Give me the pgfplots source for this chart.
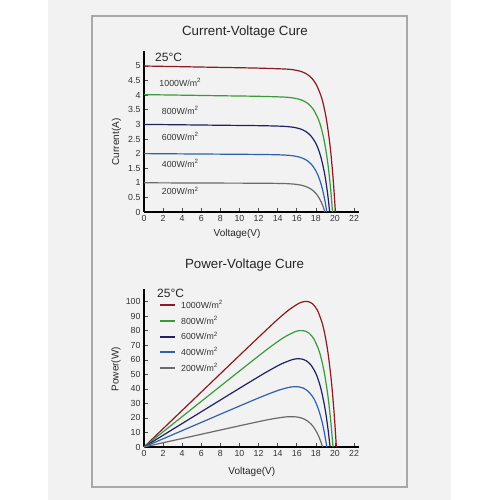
\documentclass[border=0pt]{standalone}
\usepackage{pgfplots}
\pgfplotsset{compat=1.18}
\usepackage{fontspec}
\setmainfont{Liberation Sans}
\definecolor{cRed}{HTML}{8B1A22}
\definecolor{cGreen}{HTML}{3A9A3A}
\definecolor{cNavy}{HTML}{1F2163}
\definecolor{cBlue}{HTML}{2E62AD}
\definecolor{cGray}{HTML}{6A6A6A}
\definecolor{pageBg}{HTML}{F2F2F2}
\definecolor{boxLine}{HTML}{A8A8A8}
\pgfplotsset{
  common/.style={
    scale only axis, width=214.8pt,
    xmin=0, xmax=22.5, xtick={0,2,...,22},
    axis lines=left, axis line style={line width=1.6pt, -},
    tick style={line width=0.6pt, black!70},
    major tick length=4pt,
    tick align=inside,
    ticklabel style={font=\fontsize{8.8}{10}\selectfont, text=black!80},
    /pgf/number format/assume math mode=true,
    every axis plot/.append style={line width=1.2pt, smooth, tension=0.5, no markers},
    label style={font=\fontsize{10}{12}\selectfont, text=black!85},
    title style={font=\fontsize{13.3}{15}\selectfont, text=black!85},
    clip=false,
  }
}
\begin{document}
\begin{tikzpicture}
\fill[white] (0pt,0pt) rectangle (500pt,500pt);
\fill[pageBg] (48pt,0pt) rectangle (451pt,500pt);
\draw[boxLine, line width=1.2pt] (92pt,13pt) rectangle (407pt,484pt);
% ---------------- Current-Voltage ----------------
\begin{axis}[common, at={(144pt,288pt)}, anchor=south west,
  height=160.6pt, ymin=0, ymax=5.5,
  ytick={0,0.5,1,1.5,2,2.5,3,3.5,4,4.5,5},
  yticklabels={0,0.5,1,1.5,2,2.5,3,3.5,4,4.5,5},
  title={Current-Voltage Cure},
  title style={at={(axis description cs:0.47,1.084)}, anchor=center},
  xlabel={Voltage(V)},
  xlabel style={at={(axis description cs:0.433,0)}, anchor=center, yshift=-22.3pt},
  ylabel={Current(A)},
  ylabel style={at={(axis description cs:0,0.436)}, anchor=center, yshift=27.5pt},
]
\addplot[cRed] coordinates {(0,5.000) (4,4.976) (8,4.952) (12,4.927) (15.05,4.891) (16.05,4.846) (16.55,4.800) (17.05,4.723) (17.55,4.590) (18.05,4.361) (18.55,3.965) (18.85,3.599) (19.15,3.088) (19.45,2.376) (19.65,1.752) (19.85,0.973) (20.05,0)};
\addplot[cGreen] coordinates {(0,4.020) (4,4.001) (8,3.981) (12,3.962) (14.75,3.934) (15.75,3.898) (16.25,3.861) (16.75,3.799) (17.25,3.692) (17.75,3.508) (18.25,3.189) (18.55,2.894) (18.85,2.484) (19.15,1.911) (19.35,1.409) (19.55,0.782) (19.75,0)};
\addplot[cNavy] coordinates {(0,3.000) (4,2.986) (8,2.971) (12,2.957) (14.45,2.937) (15.45,2.910) (15.95,2.882) (16.45,2.836) (16.95,2.756) (17.45,2.619) (17.95,2.381) (18.25,2.161) (18.55,1.854) (18.85,1.427) (19.05,1.052) (19.25,0.584) (19.45,0)};
\addplot[cBlue] coordinates {(0,2.000) (4,1.990) (8,1.981) (12,1.971) (14.15,1.958) (15.15,1.941) (15.65,1.922) (16.15,1.891) (16.65,1.838) (17.15,1.746) (17.65,1.588) (17.95,1.441) (18.25,1.237) (18.55,0.952) (18.75,0.701) (18.95,0.390) (19.15,0)};
\addplot[cGray] coordinates {(0,1.000) (4,0.995) (8,0.990) (12,0.986) (13.95,0.979) (14.95,0.971) (15.45,0.961) (15.95,0.946) (16.45,0.919) (16.95,0.873) (17.45,0.794) (17.75,0.721) (18.05,0.618) (18.35,0.476) (18.55,0.351) (18.75,0.195) (18.95,0)};
\node[anchor=west, inner sep=0pt, font=\fontsize{12}{14}\selectfont, text=black!85] at (axis cs:1.15,5.31) {25°C};
\begin{scope}[every node/.style={font=\fontsize{8.8}{10}\selectfont, text=black!80, inner sep=0pt}]
\node at (axis cs:3.8,4.43) {1000W/m\textsuperscript{2}};
\node at (axis cs:3.8,3.49) {800W/m\textsuperscript{2}};
\node at (axis cs:3.8,2.58) {600W/m\textsuperscript{2}};
\node at (axis cs:3.8,1.67) {400W/m\textsuperscript{2}};
\node at (axis cs:3.8,0.72) {200W/m\textsuperscript{2}};
\end{scope}
\end{axis}
% ---------------- Power-Voltage ----------------
\begin{axis}[common, at={(144pt,53pt)}, anchor=south west,
  height=158.4pt, ymin=0, ymax=109,
  ytick={0,10,20,30,40,50,60,70,80,90,100},
  title={Power-Voltage Cure},
  title style={at={(axis description cs:0.468,1.111)}, anchor=center},
  xlabel={Voltage(V)},
  xlabel style={at={(axis description cs:0.502,0)}, anchor=center, yshift=-24.7pt},
  ylabel={Power(W)},
  ylabel style={at={(axis description cs:0,0.491)}, anchor=center, yshift=28pt},
  legend style={at={(axis cs:1.57,76)}, anchor=west, draw=none, fill=none,
    font=\fontsize{8.8}{10}\selectfont, text=black!80, inner sep=0pt, row sep=2pt,
    column sep=3pt},
  legend cell align=left,
  legend image code/.code={\draw[#1, line width=2pt] (0pt,0pt) -- (15pt,0pt);},
]
\addplot[cRed] coordinates {(0,0) (2,12.6) (4,25.2) (6,37.8) (8,50.4) (10,63.0) (12,75.5) (13,81.7) (14,87.8) (15.15,94.2) (16.15,98.6) (16.65,99.9) (17.15,100.1) (17.65,98.55) (18.15,94.3) (18.65,85.6) (18.95,77.3) (19.25,65.8) (19.55,50.1) (19.75,36.6) (19.95,20.1) (20.15,0)};
\addlegendentry{1000W/m\textsuperscript{2}}
\addplot[cGreen] coordinates {(0,0) (2,10.46) (4,20.92) (6,31.38) (8,41.84) (10,52.28) (12,62.64) (13,67.70) (14,72.51) (14.8,75.99) (15.8,79.26) (16.3,80.07) (16.8,79.89) (17.3,78.24) (17.8,74.30) (18.3,66.88) (18.6,60.03) (18.9,50.73) (19.2,38.28) (19.4,27.79) (19.6,15.16) (19.8,0)};
\addlegendentry{800W/m\textsuperscript{2}}
\addplot[cNavy] coordinates {(0,0) (2,8.08) (4,16.16) (6,24.24) (8,32.32) (10,40.38) (12,48.36) (13,52.23) (14,55.86) (14.49,57.47) (15.49,60.03) (15.99,60.67) (16.49,60.58) (16.99,59.35) (17.49,56.39) (17.99,50.79) (18.29,45.60) (18.59,38.54) (18.89,29.09) (19.09,21.12) (19.29,11.53) (19.49,0)};
\addlegendentry{600W/m\textsuperscript{2}}
\addplot[cBlue] coordinates {(0,0) (2,5.64) (4,11.28) (6,16.92) (8,22.56) (10,28.18) (12,33.73) (13,36.39) (14.15,39.17) (15.15,40.98) (15.65,41.45) (16.15,41.41) (16.65,40.60) (17.15,38.60) (17.65,34.78) (17.95,31.24) (18.25,26.41) (18.55,19.94) (18.75,14.48) (18.95,7.90) (19.15,0)};
\addlegendentry{400W/m\textsuperscript{2}}
\addplot[cGray] coordinates {(0,0) (2,2.92) (4,5.84) (6,8.76) (8,11.68) (10,14.59) (12,17.44) (13,18.78) (13.7,19.64) (14.7,20.59) (15.2,20.84) (15.7,20.84) (16.2,20.45) (16.7,19.46) (17.2,17.55) (17.5,15.77) (17.8,13.34) (18.1,10.07) (18.3,7.32) (18.5,3.99) (18.7,0)};
\addlegendentry{200W/m\textsuperscript{2}}
\node[anchor=west, inner sep=0pt, font=\fontsize{12}{14}\selectfont, text=black!85] at (axis cs:1.36,106) {25°C};
\end{axis}
\end{tikzpicture}
\end{document}
